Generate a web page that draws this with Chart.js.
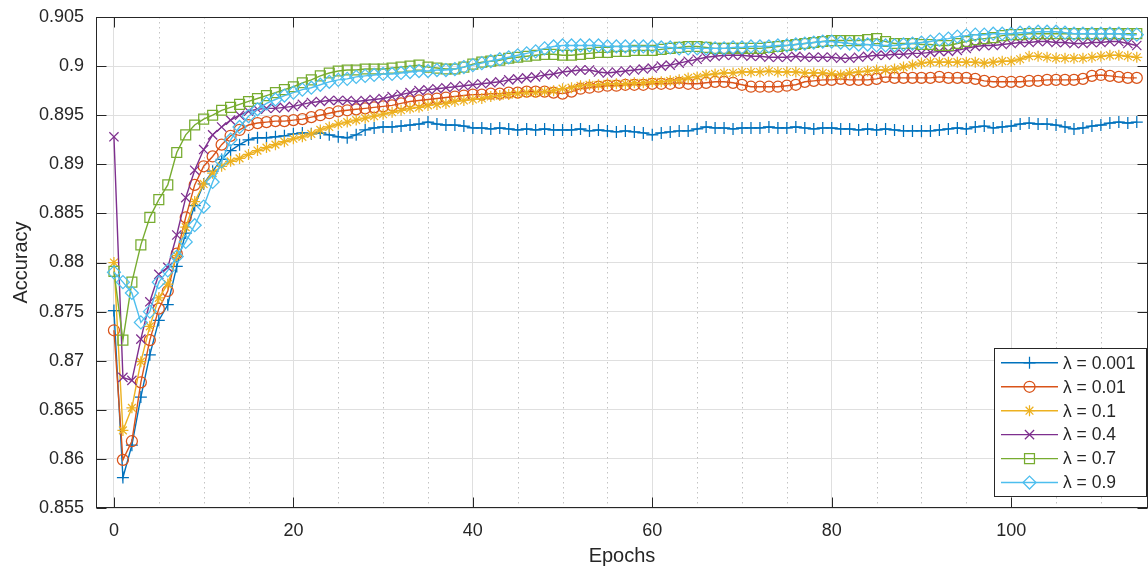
<!DOCTYPE html>
<html><head><meta charset="utf-8">
<script src="https://cdn.jsdelivr.net/npm/chart.js@4.4.1/dist/chart.umd.min.js"></script>
<style>html,body{margin:0;padding:0;background:#fff}#wrap{width:1148px;height:568px}</style>
</head><body><div id="wrap"><canvas id="c" width="1148" height="568"></canvas></div>
<script>
const epochs = [0,1,2,3,4,5,6,7,8,9,10,11,12,13,14,15,16,17,18,19,20,21,22,23,24,25,26,27,28,29,30,31,32,33,34,35,36,37,38,39,40,41,42,43,44,45,46,47,48,49,50,51,52,53,54,55,56,57,58,59,60,61,62,63,64,65,66,67,68,69,70,71,72,73,74,75,76,77,78,79,80,81,82,83,84,85,86,87,88,89,90,91,92,93,94,95,96,97,98,99,100,101,102,103,104,105,106,107,108,109,110,111,112,113,114];
const seriesLabels = ['λ = 0.001','λ = 0.01','λ = 0.1','λ = 0.4','λ = 0.7','λ = 0.9'];
const lam0001 = [0.8751,0.8581,0.8614,0.8663,0.8706,0.8741,0.8757,0.8796,0.8830,0.8858,
0.8880,0.8893,0.8905,0.8914,0.8920,0.8925,0.8927,0.8927,0.8928,0.8929,
0.8931,0.8932,0.8931,0.8932,0.8930,0.8928,0.8927,0.8930,0.8935,0.8937,
0.8938,0.8938,0.8939,0.8940,0.8941,0.8943,0.8941,0.8940,0.8940,0.8939,
0.8937,0.8937,0.8936,0.8937,0.8936,0.8935,0.8936,0.8935,0.8936,0.8935,
0.8935,0.8935,0.8936,0.8934,0.8935,0.8934,0.8933,0.8934,0.8933,0.8932,
0.8930,0.8932,0.8933,0.8934,0.8934,0.8936,0.8938,0.8937,0.8937,0.8936,
0.8937,0.8937,0.8937,0.8938,0.8937,0.8937,0.8938,0.8937,0.8936,0.8937,
0.8937,0.8936,0.8936,0.8935,0.8936,0.8935,0.8936,0.8935,0.8934,0.8934,
0.8934,0.8934,0.8935,0.8936,0.8937,0.8936,0.8938,0.8939,0.8937,0.8938,
0.8939,0.8941,0.8942,0.8941,0.8941,0.8940,0.8938,0.8936,0.8937,0.8939,
0.8940,0.8942,0.8943,0.8942,0.8943];
const lam001 = [0.8731,0.8599,0.8618,0.8678,0.8721,0.8753,0.8771,0.8809,0.8846,0.8879,
0.8898,0.8908,0.8920,0.8929,0.8935,0.8940,0.8942,0.8943,0.8944,0.8944,
0.8945,0.8946,0.8948,0.8950,0.8952,0.8954,0.8955,0.8956,0.8957,0.8958,
0.8959,0.8960,0.8962,0.8964,0.8965,0.8966,0.8967,0.8968,0.8969,0.8970,
0.8971,0.8971,0.8972,0.8972,0.8973,0.8973,0.8974,0.8974,0.8974,0.8973,
0.8972,0.8974,0.8977,0.8978,0.8979,0.8980,0.8980,0.8981,0.8981,0.8981,
0.8982,0.8982,0.8982,0.8983,0.8982,0.8982,0.8983,0.8984,0.8984,0.8983,
0.8981,0.8979,0.8979,0.8979,0.8979,0.8980,0.8981,0.8984,0.8985,0.8986,
0.8986,0.8987,0.8986,0.8986,0.8986,0.8987,0.8989,0.8988,0.8988,0.8988,
0.8988,0.8988,0.8989,0.8988,0.8988,0.8988,0.8987,0.8985,0.8984,0.8984,
0.8984,0.8984,0.8985,0.8985,0.8986,0.8986,0.8986,0.8986,0.8987,0.8990,
0.8991,0.8990,0.8989,0.8988,0.8988];
const lam01 = [0.8800,0.8629,0.8652,0.8699,0.8735,0.8764,0.8778,0.8807,0.8836,0.8862,
0.8880,0.8891,0.8898,0.8903,0.8906,0.8910,0.8914,0.8917,0.8920,0.8923,
0.8926,0.8928,0.8931,0.8935,0.8938,0.8941,0.8943,0.8945,0.8947,0.8949,
0.8951,0.8953,0.8955,0.8957,0.8958,0.8960,0.8961,0.8962,0.8964,0.8965,
0.8966,0.8967,0.8969,0.8970,0.8971,0.8972,0.8973,0.8973,0.8974,0.8975,
0.8977,0.8978,0.8980,0.8981,0.8981,0.8982,0.8982,0.8982,0.8983,0.8983,
0.8984,0.8984,0.8985,0.8986,0.8988,0.8989,0.8991,0.8992,0.8993,0.8993,
0.8994,0.8994,0.8994,0.8995,0.8994,0.8994,0.8994,0.8993,0.8993,0.8993,
0.8992,0.8991,0.8993,0.8994,0.8995,0.8996,0.8996,0.8997,0.8999,0.9001,
0.9003,0.9004,0.9004,0.9004,0.9004,0.9004,0.9004,0.9003,0.9004,0.9005,
0.9005,0.9007,0.9010,0.9010,0.9009,0.9008,0.9008,0.9008,0.9008,0.9009,
0.9010,0.9011,0.9011,0.9010,0.9009];
const lam04 = [0.8928,0.8683,0.8680,0.8722,0.8760,0.8788,0.8795,0.8828,0.8866,0.8894,
0.8915,0.8930,0.8938,0.8945,0.8950,0.8954,0.8956,0.8957,0.8957,0.8958,
0.8959,0.8961,0.8963,0.8964,0.8965,0.8965,0.8965,0.8964,0.8965,0.8966,
0.8967,0.8969,0.8971,0.8973,0.8975,0.8976,0.8977,0.8978,0.8979,0.8980,
0.8981,0.8982,0.8983,0.8984,0.8986,0.8987,0.8988,0.8989,0.8991,0.8992,
0.8994,0.8995,0.8996,0.8996,0.8994,0.8993,0.8994,0.8995,0.8996,0.8997,
0.8998,0.9000,0.9001,0.9003,0.9005,0.9007,0.9009,0.9010,0.9011,0.9011,
0.9011,0.9010,0.9010,0.9009,0.9009,0.9009,0.9010,0.9009,0.9009,0.9009,
0.9009,0.9008,0.9008,0.9009,0.9010,0.9011,0.9011,0.9012,0.9012,0.9013,
0.9013,0.9014,0.9015,0.9015,0.9016,0.9018,0.9020,0.9021,0.9021,0.9022,
0.9023,0.9024,0.9024,0.9025,0.9025,0.9024,0.9024,0.9023,0.9023,0.9024,
0.9024,0.9025,0.9025,0.9023,0.9021];
const lam07 = [0.8791,0.8721,0.8780,0.8818,0.8846,0.8864,0.8879,0.8912,0.8930,0.8940,
0.8946,0.8950,0.8955,0.8958,0.8961,0.8964,0.8967,0.8970,0.8973,0.8976,
0.8979,0.8983,0.8986,0.8990,0.8993,0.8995,0.8996,0.8996,0.8997,0.8997,
0.8997,0.8998,0.8999,0.9000,0.9001,0.8999,0.8998,0.8997,0.8997,0.8999,
0.9002,0.9004,0.9005,0.9006,0.9008,0.9009,0.9010,0.9011,0.9012,0.9012,
0.9011,0.9011,0.9012,0.9013,0.9014,0.9014,0.9015,0.9015,0.9016,0.9016,
0.9016,0.9017,0.9018,0.9019,0.9020,0.9020,0.9019,0.9018,0.9018,0.9018,
0.9018,0.9018,0.9018,0.9019,0.9020,0.9021,0.9022,0.9023,0.9024,0.9025,
0.9026,0.9026,0.9026,0.9026,0.9027,0.9028,0.9025,0.9023,0.9023,0.9023,
0.9022,0.9022,0.9021,0.9021,0.9023,0.9025,0.9027,0.9028,0.9029,0.9031,
0.9032,0.9032,0.9033,0.9033,0.9033,0.9033,0.9033,0.9033,0.9033,0.9033,
0.9033,0.9033,0.9033,0.9033,0.9033];
const lam09 = [0.8790,0.8780,0.8769,0.8739,0.8750,0.8780,0.8792,0.8806,0.8821,0.8838,
0.8857,0.8882,0.8903,0.8925,0.8938,0.8949,0.8956,0.8962,0.8966,0.8970,
0.8973,0.8976,0.8978,0.8981,0.8984,0.8986,0.8987,0.8989,0.8990,0.8991,
0.8992,0.8992,0.8993,0.8994,0.8995,0.8995,0.8996,0.8996,0.8997,0.8999,
0.9001,0.9003,0.9005,0.9007,0.9009,0.9011,0.9013,0.9015,0.9018,0.9020,
0.9021,0.9021,0.9021,0.9021,0.9021,0.9020,0.9020,0.9020,0.9020,0.9020,
0.9020,0.9019,0.9019,0.9018,0.9018,0.9018,0.9018,0.9018,0.9018,0.9019,
0.9019,0.9020,0.9020,0.9020,0.9021,0.9021,0.9022,0.9023,0.9024,0.9025,
0.9025,0.9024,0.9023,0.9022,0.9022,0.9021,0.9021,0.9021,0.9022,0.9023,
0.9024,0.9025,0.9027,0.9028,0.9030,0.9031,0.9032,0.9032,0.9033,0.9033,
0.9033,0.9034,0.9034,0.9035,0.9035,0.9035,0.9034,0.9033,0.9033,0.9033,
0.9033,0.9033,0.9033,0.9032,0.9032];
const xTicks = [0,20,40,60,80,100];
const xMinorTicks = [5,10,15,25,30,35,45,50,55,65,70,75,85,90,95,105,110];
const yTicks = [0.855,0.86,0.865,0.87,0.875,0.88,0.885,0.89,0.895,0.9,0.905];

const FONT = '"Liberation Sans", Arial, Helvetica, sans-serif';
const TXT = '#262626';
const colors = ['#0072BD','#D95319','#EDB120','#7E2F8E','#77AC30','#4DBEEE'];
const styles = ['cross','circle','star','crossRot','rect','rectRot'];
const radii = [6,5.5,5.5,6.5,7,6.5];
const allSeries = [lam0001, lam001, lam01, lam04, lam07, lam09];

const datasets = allSeries.map((d,i)=>({
  label: seriesLabels[i], data: d,
  borderColor: colors[i], backgroundColor: colors[i],
  borderWidth: 1.4, pointStyle: styles[i], pointRadius: radii[i],
  pointBorderColor: colors[i], pointBackgroundColor: 'rgba(0,0,0,0)',
  pointBorderWidth: 1.25, tension: 0, order: 5 - i
}));

function drawMarker(ctx, style, r, x, y, color){
  ctx.save();
  ctx.strokeStyle = color; ctx.fillStyle = 'rgba(0,0,0,0)'; ctx.lineWidth = 1.25;
  if (Chart.helpers && Chart.helpers.drawPoint) {
    Chart.helpers.drawPoint(ctx, {pointStyle: style, radius: r, rotation: 0, borderWidth: 1.25}, x, y);
  } else {
    ctx.beginPath(); ctx.arc(x, y, r, 0, Math.PI*2); ctx.stroke();
  }
  ctx.restore();
}

const bgPlugin = {
  id: 'bg',
  beforeDraw(chart){ const c = chart.ctx; c.save(); c.fillStyle = '#fff'; c.fillRect(0,0,chart.width,chart.height); c.restore(); }
};
const minorGrid = {
  id: 'minorGrid',
  beforeDatasetsDraw(chart){
    const {ctx, chartArea: a, scales: {x}} = chart;
    ctx.save(); ctx.strokeStyle = '#c4c4c4'; ctx.lineWidth = 1; ctx.setLineDash([1.5, 3.5]);
    xMinorTicks.forEach(v => {
      const px = Math.round(x.getPixelForValue(v)) + 0.5;
      ctx.beginPath(); ctx.moveTo(px, a.top); ctx.lineTo(px, a.bottom); ctx.stroke();
    });
    ctx.restore();
  }
};
const boxPlugin = {
  id: 'box',
  afterDatasetsDraw(chart){
    const {ctx, chartArea: a, scales: {x, y}} = chart;
    const L = 10;
    ctx.save(); ctx.strokeStyle = TXT; ctx.lineWidth = 1;
    const l = Math.round(a.left)+0.5, r = Math.round(a.right)-0.5, t = Math.round(a.top)+0.5, b = Math.round(a.bottom)-0.5;
    ctx.strokeRect(l, t, r-l, b-t);
    ctx.beginPath();
    xTicks.forEach(v => { const px = Math.round(x.getPixelForValue(v))+0.5;
      ctx.moveTo(px, b); ctx.lineTo(px, b-L); ctx.moveTo(px, t); ctx.lineTo(px, t+L); });
    yTicks.forEach(v => { const py = Math.round(y.getPixelForValue(v))+0.5;
      ctx.moveTo(l, py); ctx.lineTo(l+L, py); ctx.moveTo(r, py); ctx.lineTo(r-L, py); });
    ctx.stroke(); ctx.restore();
  }
};
const legendPlugin = {
  id: 'matlabLegend',
  afterDraw(chart){
    const ctx = chart.ctx;
    ctx.save();
    const x0 = 994.5, y0 = 348.5, w = 152, h = 148;
    ctx.fillStyle = '#fff'; ctx.fillRect(x0, y0, w, h);
    ctx.strokeStyle = TXT; ctx.lineWidth = 1; ctx.strokeRect(x0, y0, w, h);
    chart.data.datasets.forEach((ds, i) => {
      const yy = 362.8 + 23.95 * i;
      ctx.strokeStyle = ds.borderColor; ctx.lineWidth = 1.4;
      ctx.beginPath(); ctx.moveTo(1001, yy); ctx.lineTo(1058, yy); ctx.stroke();
      drawMarker(ctx, ds.pointStyle, ds.pointRadius, 1029.5, yy, ds.borderColor);
      ctx.fillStyle = TXT; ctx.font = '17.5px ' + FONT; ctx.textBaseline = 'middle'; ctx.textAlign = 'left';
      ctx.fillText(ds.label, 1063, yy + 1);
    });
    ctx.restore();
  }
};

new Chart(document.getElementById('c'), {
  type: 'line',
  data: { labels: epochs, datasets },
  options: {
    responsive: false, animation: false, devicePixelRatio: 1,
    layout: { autoPadding: false, padding: { top: 17, right: 0, left: 0, bottom: 0 } },
    plugins: { legend: { display: false }, tooltip: { enabled: false } },
    scales: {
      x: {
        type: 'linear', min: -2, max: 115.25,
        afterBuildTicks(s){ s.ticks = xTicks.map(v => ({value: v})); },
        afterFit(s){ s.height = 60; s.paddingLeft = 0; s.paddingRight = 0; },
        grid: { color: '#dfdfdf', drawTicks: false, lineWidth: 1 },
        border: { display: false },
        ticks: { padding: 12, color: TXT, font: { family: FONT, size: 18 }, maxRotation: 0, autoSkip: false,
                 callback: v => String(v) },
        title: { display: true, text: 'Epochs', color: TXT, font: { family: FONT, size: 20 }, padding: { top: 0, bottom: 0 } }
      },
      y: {
        min: 0.855, max: 0.905,
        afterBuildTicks(s){ s.ticks = yTicks.map(v => ({value: v})); },
        afterFit(s){ s.width = 96; s.paddingTop = 0; s.paddingBottom = 0; },
        grid: { color: '#dfdfdf', drawTicks: false, lineWidth: 1 },
        border: { display: false },
        ticks: { padding: 12, color: TXT, font: { family: FONT, size: 18 }, autoSkip: false,
                 callback: v => String(+v.toFixed(3)) },
        title: { display: true, text: 'Accuracy', color: TXT, font: { family: FONT, size: 20 }, padding: { top: 9, bottom: 0 } }
      }
    }
  },
  plugins: [bgPlugin, minorGrid, boxPlugin, legendPlugin]
});
</script>
</body></html>
